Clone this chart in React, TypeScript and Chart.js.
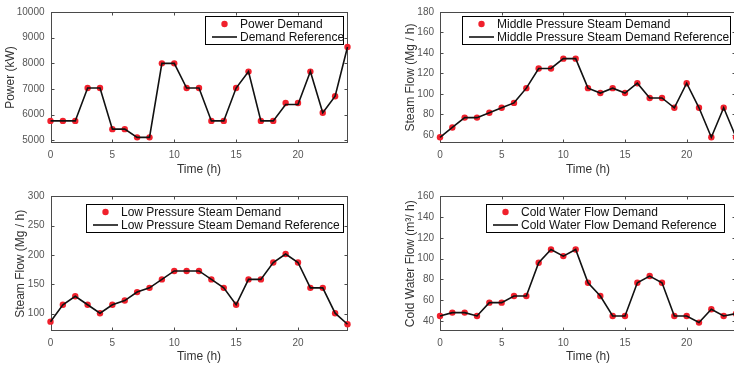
import React, { useEffect, useRef } from "react";
import { Chart, registerables } from "chart.js";

Chart.register(...registerables);

// ---------------- data ----------------
const hours = [0, 1, 2, 3, 4, 5, 6, 7, 8, 9, 10, 11, 12, 13, 14, 15, 16, 17, 18, 19, 20, 21, 22, 23, 24];

const powerDemand = [5760, 5760, 5760, 7040, 7040, 5440, 5440, 5120, 5120, 8000, 8000, 7040, 7040, 5760, 5760, 7040, 7680, 5760, 5760, 6460, 6460, 7680, 6080, 6720, 8640];
const powerReference = [5760, 5760, 5760, 7040, 7040, 5440, 5440, 5120, 5120, 8000, 8000, 7040, 7040, 5760, 5760, 7040, 7680, 5760, 5760, 6400, 6400, 7680, 6080, 6720, 8640];

const mpDemand = [57.6, 67.2, 76.8, 76.8, 81.6, 86.4, 91.2, 105.6, 124.8, 124.8, 134.4, 134.4, 105.6, 100.8, 105.6, 100.8, 110.4, 96, 96, 86.4, 110.4, 86.4, 57.6, 86.4, 57.6];
const mpReference = [57.6, 67.2, 76.8, 76.8, 81.6, 86.4, 91.2, 105.6, 124.8, 124.8, 134.4, 134.4, 105.6, 100.8, 105.6, 100.8, 110.4, 96, 96, 86.4, 110.4, 86.4, 57.6, 86.4, 57.6];

const lpDemand = [86.4, 115.2, 129.6, 115.2, 100.8, 115.2, 122.4, 136.8, 144, 158.4, 172.8, 172.8, 172.8, 158.4, 144, 115.2, 158.4, 158.4, 187.2, 201.6, 187.2, 144, 144, 100.8, 82];
const lpReference = [86.4, 115.2, 129.6, 115.2, 100.8, 115.2, 122.4, 136.8, 144, 158.4, 172.8, 172.8, 172.8, 158.4, 144, 115.2, 158.4, 158.4, 187.2, 201.6, 187.2, 144, 144, 100.8, 82];

const cwDemand = [44.8, 48, 48, 44.8, 57.6, 57.6, 64, 64, 96, 108.8, 102.4, 108.8, 76.8, 64, 44.8, 44.8, 76.8, 83.2, 76.8, 44.8, 44.8, 38.4, 51.2, 44.8, 47];
const cwReference = [44.8, 48, 48, 44.8, 57.6, 57.6, 64, 64, 96, 108.8, 102.4, 108.8, 76.8, 64, 44.8, 44.8, 76.8, 83.2, 76.8, 44.8, 44.8, 38.4, 51.2, 44.8, 47];

const xTicks = [0, 5, 10, 15, 20];
const powerTicks = [5000, 6000, 7000, 8000, 9000, 10000];
const mpTicks = [60, 80, 100, 120, 140, 160, 180];
const lpTicks = [100, 150, 200, 250, 300];
const cwTicks = [40, 60, 80, 100, 120, 140, 160];

const xTitle = "Time (h)";
const powerTitle = "Power (kW)";
const mpTitle = "Steam Flow (Mg / h)";
const lpTitle = "Steam Flow (Mg / h)";
const cwTitle = "Cold Water Flow (m³/ h)";

const powerLabels = ["Power Demand", "Demand Reference"];
const mpLabels = ["Middle Pressure Steam Demand", "Middle Pressure Steam Demand Reference"];
const lpLabels = ["Low Pressure Steam Demand", "Low Pressure Steam Demand Reference"];
const cwLabels = ["Cold Water Flow Demand", "Cold Water Flow Demand Reference"];

// ---------------- styling ----------------
const FONT = "'Liberation Sans', Arial, Helvetica, sans-serif";
const AXIS_COLOR = "#4a4a4a";
const TICK_COLOR = "#555555";
const TITLE_COLOR = "#333333";
const MARKER_COLOR = "#f0202c";

const framePlugin = {
  id: "frameTicks",
  beforeDatasetsDraw(chart: any) {
    const { ctx, chartArea } = chart;
    const { left, top, right, bottom } = chartArea;
    const xs = chart.scales.x;
    const ys = chart.scales.y;
    const L = Math.round(left) + 0.5;
    const R = Math.round(right) - 0.5;
    const T = Math.round(top) + 0.5;
    const B = Math.round(bottom) - 0.5;
    const tl = 3;
    ctx.save();
    ctx.strokeStyle = AXIS_COLOR;
    ctx.lineWidth = 1;
    ctx.strokeRect(L, T, R - L, B - T);
    ctx.beginPath();
    xs.ticks.forEach((t: any) => {
      const px = Math.round(xs.getPixelForValue(t.value)) + 0.5;
      ctx.moveTo(px, B);
      ctx.lineTo(px, B - tl);
      ctx.moveTo(px, T);
      ctx.lineTo(px, T + tl);
    });
    ys.ticks.forEach((t: any) => {
      const py = Math.round(ys.getPixelForValue(t.value)) + 0.5;
      ctx.moveTo(L, py);
      ctx.lineTo(L + tl, py);
      ctx.moveTo(R, py);
      ctx.lineTo(R - tl, py);
    });
    ctx.stroke();
    ctx.restore();
  },
};

const boxLegendPlugin = {
  id: "boxLegend",
  afterDraw(chart: any, _args: any, opts: any) {
    const { ctx } = chart;
    const { x, y, w, h } = opts;
    const ds = chart.data.datasets;
    ctx.save();
    ctx.fillStyle = "#ffffff";
    ctx.fillRect(x, y, w, h);
    ctx.strokeStyle = "#000000";
    ctx.lineWidth = 1;
    ctx.strokeRect(Math.round(x) + 0.5, Math.round(y) + 0.5, w, h);
    const row1 = y + 8;
    const row2 = y + 21;
    // marker entry
    ctx.fillStyle = MARKER_COLOR;
    ctx.beginPath();
    ctx.arc(x + 19.5, row1, 3.2, 0, Math.PI * 2);
    ctx.fill();
    // line entry
    ctx.strokeStyle = "#111111";
    ctx.lineWidth = 1.6;
    ctx.beginPath();
    ctx.moveTo(x + 7, row2);
    ctx.lineTo(x + 32, row2);
    ctx.stroke();
    ctx.fillStyle = "#111111";
    ctx.font = `12px ${FONT}`;
    ctx.textBaseline = "middle";
    ctx.textAlign = "left";
    ctx.fillText(ds[1].label, x + 35, row1 + 0.5);
    ctx.fillText(ds[0].label, x + 35, row2 + 0.5);
    ctx.restore();
  },
};

type PanelProps = {
  pos: { left: number; top: number; width: number; height: number };
  area: { left: number; top: number; right: number; bottom: number };
  yTitlePad: number;
  xTitlePad: number;
  yMin: number;
  yMax: number;
  yTicks: number[];
  yTitle: string;
  demand: number[];
  reference: number[];
  labels: string[];
  legend: { x: number; y: number; w: number; h: number };
};

function Panel(p: PanelProps) {
  const ref = useRef<HTMLCanvasElement | null>(null);
  useEffect(() => {
    if (!ref.current) return;
    const { width, height } = p.pos;
    const chart = new Chart(ref.current, {
      type: "line",
      data: {
        datasets: [
          {
            label: p.labels[1],
            data: hours.map((h, i) => ({ x: h, y: p.reference[i] })),
            borderColor: "#111111",
            borderWidth: 1.6,
            pointRadius: 0,
            tension: 0,
            fill: false,
            clip: false as any,
            order: 0,
          },
          {
            label: p.labels[0],
            data: hours.map((h, i) => ({ x: h, y: p.demand[i] })),
            showLine: false,
            pointRadius: 3.2,
            pointBackgroundColor: MARKER_COLOR,
            pointBorderWidth: 0,
            pointBorderColor: MARKER_COLOR,
            clip: false as any,
            order: 1,
          },
        ],
      },
      options: {
        animation: false,
        responsive: false,
        events: [],
        layout: {
          padding: { left: 0, top: p.area.top, right: width - p.area.right, bottom: 0 },
        },
        plugins: {
          legend: { display: false },
          tooltip: { enabled: false },
          boxLegend: p.legend,
        } as any,
        scales: {
          x: {
            type: "linear",
            min: 0,
            max: 24,
            grid: { display: false, drawTicks: false, tickLength: 0 },
            border: { display: false },
            ticks: {
              padding: 6,
              autoSkip: false,
              maxRotation: 0,
              color: TICK_COLOR,
              font: { family: FONT, size: 10 },
              callback: (v: any) => String(v),
            },
            afterBuildTicks: (s: any) => {
              s.ticks = xTicks.map((v) => ({ value: v }));
            },
            afterFit: (s: any) => {
              s.height = height - p.area.bottom;
            },
            title: {
              display: true,
              text: xTitle,
              color: TITLE_COLOR,
              font: { family: FONT, size: 12 },
              padding: { top: 0, bottom: p.xTitlePad },
            },
          },
          y: {
            type: "linear",
            min: p.yMin,
            max: p.yMax,
            grid: { display: false, drawTicks: false, tickLength: 0 },
            border: { display: false },
            ticks: {
              padding: 6,
              autoSkip: false,
              color: TICK_COLOR,
              font: { family: FONT, size: 10 },
              callback: (v: any) => String(v),
            },
            afterBuildTicks: (s: any) => {
              s.ticks = p.yTicks.map((v) => ({ value: v }));
            },
            afterFit: (s: any) => {
              s.width = p.area.left;
            },
            title: {
              display: true,
              text: p.yTitle,
              color: TITLE_COLOR,
              font: { family: FONT, size: 12 },
              padding: { top: p.yTitlePad, bottom: 0 },
            },
          },
        },
      } as any,
      plugins: [framePlugin, boxLegendPlugin],
    });
    return () => chart.destroy();
  }, []);
  return (
    <canvas
      ref={ref}
      width={p.pos.width}
      height={p.pos.height}
      style={{
        position: "absolute",
        left: p.pos.left,
        top: p.pos.top,
        width: p.pos.width,
        height: p.pos.height,
      }}
    />
  );
}

export default function App() {
  return (
    <div
      style={{
        position: "fixed",
        left: 0,
        top: 0,
        width: 734,
        height: 366,
        overflow: "hidden",
        background: "#ffffff",
      }}
    >
      <Panel
        pos={{ left: 0, top: 0, width: 367, height: 183 }}
        area={{ left: 50.5, top: 8, right: 347.5, bottom: 143 }}
        yTitlePad={3}
        xTitlePad={5.8}
        yMin={4900}
        yMax={10000}
        yTicks={powerTicks}
        yTitle={powerTitle}
        demand={powerDemand}
        reference={powerReference}
        labels={powerLabels}
        legend={{ x: 205, y: 16, w: 138, h: 28 }}
      />
      <Panel
        pos={{ left: 367, top: 0, width: 373, height: 183 }}
        area={{ left: 73, top: 8, right: 370, bottom: 143 }}
        yTitlePad={36}
        xTitlePad={5.8}
        yMin={52}
        yMax={180}
        yTicks={mpTicks}
        yTitle={mpTitle}
        demand={mpDemand}
        reference={mpReference}
        labels={mpLabels}
        legend={{ x: 95, y: 16, w: 268, h: 28 }}
      />
      <Panel
        pos={{ left: 0, top: 183, width: 367, height: 183 }}
        area={{ left: 50.5, top: 13.3, right: 347.5, bottom: 148.3 }}
        yTitlePad={13}
        xTitlePad={1.8}
        yMin={70}
        yMax={300}
        yTicks={lpTicks}
        yTitle={lpTitle}
        demand={lpDemand}
        reference={lpReference}
        labels={lpLabels}
        legend={{ x: 86, y: 21, w: 257, h: 28 }}
      />
      <Panel
        pos={{ left: 367, top: 183, width: 373, height: 183 }}
        area={{ left: 73, top: 13.3, right: 370, bottom: 148.3 }}
        yTitlePad={36}
        xTitlePad={1.8}
        yMin={30}
        yMax={160}
        yTicks={cwTicks}
        yTitle={cwTitle}
        demand={cwDemand}
        reference={cwReference}
        labels={cwLabels}
        legend={{ x: 119, y: 21, w: 238, h: 28 }}
      />
    </div>
  );
}
